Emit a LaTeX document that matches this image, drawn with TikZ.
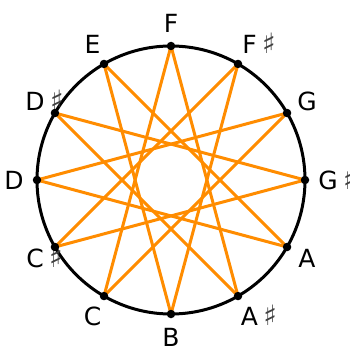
\documentclass[tikz,border=0pt]{standalone}
\usepackage{fontspec}
\setmainfont{DejaVu Sans}
\usetikzlibrary{calc}
\definecolor{linecol}{RGB}{255,140,0}
\begin{document}
\begin{tikzpicture}[x=1pt,y=-1pt,
  dotnode/.style={circle,fill=black,inner sep=0pt,minimum size=8.5pt},
  lbl/.style={font=\fontsize{25}{29}\selectfont,inner sep=0pt,anchor=center},
  sharpnode/.style={font=\fontsize{28}{32}\selectfont,text=black!75,inner sep=0pt,anchor=base west},
  starline/.style={draw=linecol,line width=3pt,line cap=round}]
\useasboundingbox (0,0) rectangle (350,350);
\coordinate (c) at (171,180);
\draw[line width=3pt] (c) circle (134);
\foreach \i/\name in {0/F,1/F,2/G,3/G,4/A,5/A,6/B,7/C,8/C,9/D,10/D,11/E}{
  \coordinate (p\i) at ($(c)+({90-30*\i}:134 and -134)$);
  \node[lbl] (l\i) at ($(c)+({90-30*\i}:157 and -157)$) {\name};
}
\foreach \i in {1,3,5,8,10}{
  \node[sharpnode] (s\i) at ($(l\i.base east)+(5,0)$) {♯};
}
\foreach \i in {0,...,11}{
  \pgfmathtruncatemacro{\j}{mod(\i+5,12)}
  \draw[starline] (p\i) -- (p\j);
}
\foreach \i in {0,...,11}{
  \node[dotnode] (d\i) at (p\i) {};
}
\end{tikzpicture}
\end{document}
